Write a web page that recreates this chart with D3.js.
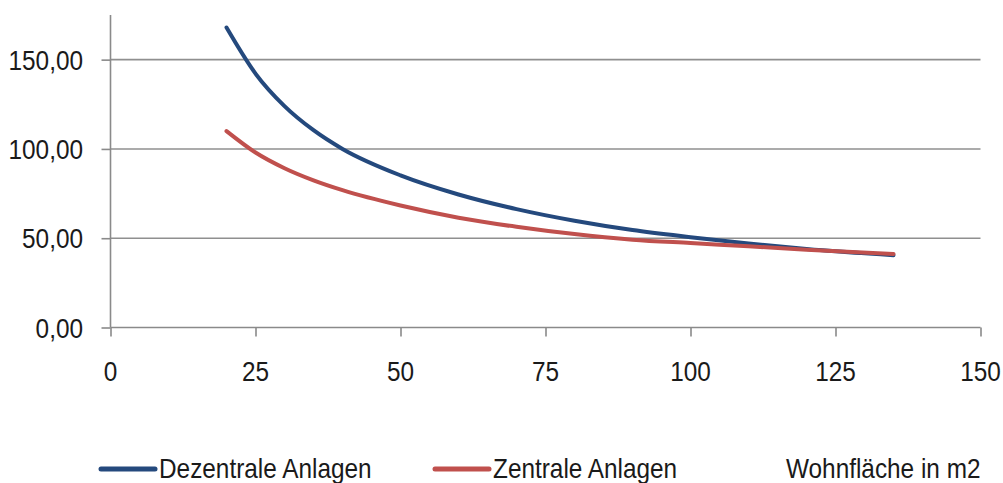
<!DOCTYPE html>
<html><head><meta charset="utf-8">
<script src="https://cdn.jsdelivr.net/npm/d3@7"></script>
<style>body{margin:0;background:#fff}svg{display:block}text{font-family:"Liberation Sans",Arial,sans-serif;fill:#1a1a1a}</style>
</head><body>
<script>
const xValues = [20, 25, 30, 35, 40, 50, 60, 70, 80, 90, 100, 110, 120, 135];
const dezentrale = [168, 142.2, 124, 110.5, 100, 85.2, 74.5, 66.3, 59.8, 54.6, 50.6, 47, 44, 40.5];
const zentrale = [110, 98, 89.2, 82.4, 76.9, 68.3, 61.5, 56.4, 52.3, 49.2, 47.3, 45.5, 43.6, 41.2];
const seriesNames = ["Dezentrale Anlagen", "Zentrale Anlagen"];
const seriesColors = ["#24497d", "#c0504d"];
const xTicks = [0, 25, 50, 75, 100, 125, 150];
const yTicks = [0, 50, 100, 150];
const xTitle = "Wohnfläche in m2";

const W = 1003, H = 483;
const svg = d3.select("body").append("svg").attr("width", W).attr("height", H);
const x = d3.scaleLinear().domain([0, 150]).range([110.5, 980.5]);
const y = d3.scaleLinear().domain([0, 175]).range([327.5, 15]);
const sx = 0.87;
const fmt = v => d3.format(".2f")(v).replace(".", ",");

// gridlines
svg.append("g").selectAll("line").data(yTicks.filter(d => d > 0)).join("line")
  .attr("x1", x(0)).attr("x2", x(150)).attr("y1", d => y(d)).attr("y2", d => y(d))
  .attr("stroke", "#8f8f8f").attr("stroke-width", 1.6);

// y axis
const yAxis = svg.append("g").attr("transform", `translate(${x(0)},0)`)
  .call(d3.axisLeft(y).tickValues(yTicks).tickSize(9).tickFormat(""));
yAxis.select(".domain").attr("stroke", "#8a8a8a").attr("stroke-width", 1.6)
  .attr("d", `M0,${y(0)}V${y(175)}`);
yAxis.selectAll(".tick line").attr("stroke", "#8a8a8a").attr("stroke-width", 1.6);

// x axis
const xAxis = svg.append("g").attr("transform", `translate(0,${y(0)})`)
  .call(d3.axisBottom(x).tickValues(xTicks).tickSize(9).tickFormat(""));
xAxis.select(".domain").attr("stroke", "#8a8a8a").attr("stroke-width", 1.6)
  .attr("d", `M${x(0)},0H${x(150)}`);
xAxis.selectAll(".tick line").attr("stroke", "#8a8a8a").attr("stroke-width", 1.6);

// tick labels
svg.append("g").selectAll("g").data(yTicks).join("g")
  .attr("transform", d => `translate(83,${y(d) + 10}) scale(${sx},1)`)
  .append("text").attr("text-anchor", "end").attr("font-size", 28).text(fmt);
svg.append("g").selectAll("g").data(xTicks).join("g")
  .attr("transform", d => `translate(${x(d)},381) scale(${sx},1)`)
  .append("text").attr("text-anchor", "middle").attr("font-size", 28).text(d => d);

// lines
const line = d3.line().x(d => x(d[0])).y(d => y(d[1])).curve(d3.curveMonotoneX);
[dezentrale, zentrale].forEach((vals, i) => {
  svg.append("path").datum(xValues.map((v, j) => [v, vals[j]]))
    .attr("d", line).attr("fill", "none").attr("stroke", seriesColors[i])
    .attr("stroke-width", 4).attr("stroke-linecap", "round");
});

// legend
const legX = [101, 435];
seriesNames.forEach((n, i) => {
  svg.append("line").attr("x1", legX[i]).attr("x2", legX[i] + 54).attr("y1", 469).attr("y2", 469)
    .attr("stroke", seriesColors[i]).attr("stroke-width", 5).attr("stroke-linecap", "round");
  svg.append("g").attr("transform", `translate(${legX[i] + 58},478) scale(${sx},1)`)
    .append("text").attr("font-size", 28).text(n);
});
svg.append("g").attr("transform", `translate(786,478) scale(${sx},1)`)
  .append("text").attr("font-size", 28).text(xTitle);
</script>
</body></html>
